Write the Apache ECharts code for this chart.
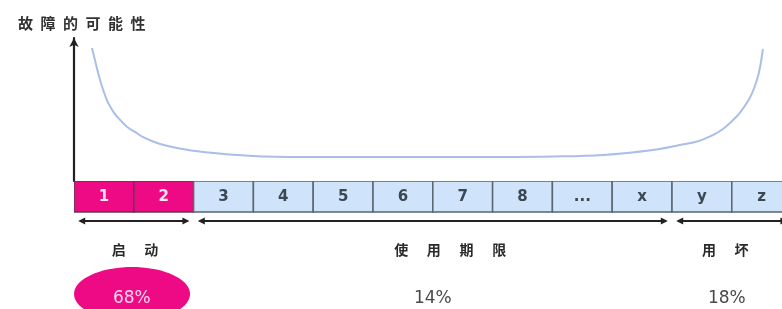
<!DOCTYPE html>
<html><head><meta charset="utf-8">
<script src="https://cdn.jsdelivr.net/npm/echarts@6/dist/echarts.min.js"></script>
<style>html,body{margin:0;padding:0;background:#fff}#c{width:782px;height:309px}</style>
</head><body><div id="c"></div>
<script>
// ---- data ----
const titleText = '故\u2002障\u2002的\u2002可\u2002能\u2002性';
const cellLabels = ['1','2','3','4','5','6','7','8','...','x','y','z'];
const phaseNames = ['启\u2003\u2004动','使\u2003\u2004用\u2003\u2004期\u2003\u2004限','用\u2003\u2004坏'];
const phaseStart = [0, 2, 10];
const phaseEnd = [2, 10, 12];
const phasePercent = [68, 14, 18];
const curveX = [0.30,0.35,0.40,0.45,0.50,0.55,0.60,0.67,0.74,0.82,0.89,1.02,1.15,1.30,1.44,1.72,2.16,2.99,3.83,5.95,7.17,8.01,8.85,9.68,10.13,10.42,10.69,10.84,10.97,11.12,11.25,11.34,11.42,11.47,11.52];
const curveY = [93.0,84.6,76.2,68.5,62.2,56.6,52.4,47.6,44.1,40.6,37.8,34.3,30.8,28.0,25.9,23.1,20.3,17.5,16.8,16.8,16.8,17.1,18.2,21.7,25.2,27.6,32.2,36.0,40.6,46.9,54.5,61.5,70.6,79.0,92.3];

// ---- layout (not data) ----
const X_MAX = 708 / 59.8;
const ROW = { cellTop: 0, cellBottom: 31, arrow: 40, label: 69, pct: 118 };
const labelAt = [1.02, 6.29, 10.89];
const GAP = 0.07;
const PINK = '#ee0a85';
const BLUE = '#cfe3fa';

const chart = echarts.init(document.getElementById('c'), null, { renderer: 'canvas' });

const cellSeries = {
  type: 'custom', xAxisIndex: 1, yAxisIndex: 1, clip: true,
  data: cellLabels.map((l, i) => [i, 0]),
  renderItem(params, api) {
    const i = api.value(0);
    const p0 = api.coord([i, ROW.cellTop]);
    const p1 = api.coord([i + 1, ROW.cellBottom]);
    const hot = i < phaseEnd[0];
    return {
      type: 'group',
      children: [
        { type: 'rect', shape: { x: p0[0], y: p0[1], width: p1[0] - p0[0], height: p1[1] - p0[1] },
          style: { fill: hot ? PINK : BLUE, stroke: hot ? '#5e3a4e' : '#5a6670', lineWidth: 1.5 } },
        { type: 'text', style: { text: cellLabels[params.dataIndex], x: (p0[0] + p1[0]) / 2, y: (p0[1] + p1[1]) / 2 + 1,
          align: 'center', verticalAlign: 'middle', fill: hot ? '#ffe4f2' : '#3b4852',
          font: 'bold 15px "DejaVu Sans", Verdana, sans-serif' } }
      ]
    };
  }
};

const phaseSeries = {
  type: 'custom', xAxisIndex: 1, yAxisIndex: 1, clip: false,
  data: phaseNames.map((n, i) => [phaseStart[i], phaseEnd[i], phasePercent[i]]),
  renderItem(params, api) {
    const k = params.dataIndex;
    const s = api.value(0), e = api.value(1), pct = api.value(2);
    const a = api.coord([s + GAP, ROW.arrow]);
    const b = api.coord([e - GAP, ROW.arrow]);
    const y = a[1];
    const L = 7, H = 3.5;
    const mid = (s + e) / 2;
    const lab = api.coord([labelAt[k], ROW.label]);
    const pc = api.coord([mid, ROW.pct]);
    const children = [
      { type: 'line', shape: { x1: a[0] + 2, y1: y, x2: b[0] - 2, y2: y }, style: { stroke: '#222', lineWidth: 2.2 } },
      { type: 'polygon', shape: { points: [[a[0], y], [a[0] + L, y - H], [a[0] + L, y + H]] }, style: { fill: '#222' } },
      { type: 'polygon', shape: { points: [[b[0], y], [b[0] - L, y - H], [b[0] - L, y + H]] }, style: { fill: '#222' } },
      { type: 'text', style: { text: phaseNames[k], x: lab[0], y: lab[1], align: 'center', verticalAlign: 'middle',
          fill: '#2a2a2a', font: 'bold 14px "Noto Sans CJK SC", sans-serif' } }
    ];
    if (k === 0) {
      const ec = api.coord([mid - 0.03, ROW.pct - 5]);
      const rx = 58, ry = 27, pts = [];
      for (let t = 0; t < 72; t++) {
        const ang = t / 72 * Math.PI * 2;
        pts.push([ec[0] + rx * Math.cos(ang), ec[1] + ry * Math.sin(ang)]);
      }
      children.push({ type: 'polygon', shape: { points: pts }, style: { fill: PINK } });
      children.push({ type: 'text', style: { text: pct + '%', x: pc[0] - 2, y: pc[1], align: 'center', verticalAlign: 'middle',
          fill: '#ffd8ec', font: '17px "DejaVu Sans", Verdana, sans-serif' } });
    } else {
      children.push({ type: 'text', style: { text: pct + '%', x: pc[0] + (k === 2 ? -5 : 0), y: pc[1], align: 'center', verticalAlign: 'middle',
          fill: '#4a4a4a', font: '17px "DejaVu Sans", Verdana, sans-serif' } });
    }
    return { type: 'group', children };
  }
};

chart.setOption({
  animation: false,
  backgroundColor: '#ffffff',
  title: {
    text: titleText, left: 13, top: 11,
    textStyle: { fontSize: 15, fontWeight: 'bold', color: '#333', fontFamily: '"Noto Sans CJK SC", sans-serif' }
  },
  grid: [
    { left: 74, right: 0, top: 38, bottom: 128 },
    { left: 74, right: 0, top: 181, bottom: 0 }
  ],
  xAxis: [
    { gridIndex: 0, type: 'value', min: 0, max: X_MAX, show: false },
    { gridIndex: 1, type: 'value', min: 0, max: X_MAX, show: false }
  ],
  yAxis: [
    { gridIndex: 0, type: 'value', min: 0, max: 100,
      axisLine: { show: true, symbol: ['none', 'arrow'], symbolSize: [7, 9], lineStyle: { color: '#222', width: 2.2 } },
      axisTick: { show: false }, axisLabel: { show: false }, splitLine: { show: false } },
    { gridIndex: 1, type: 'value', min: 0, max: 128, inverse: true, show: false }
  ],
  series: [
    { type: 'line', xAxisIndex: 0, yAxisIndex: 0, smooth: 0.35, showSymbol: false,
      lineStyle: { color: '#a9bfe8', width: 2 },
      data: curveX.map((x, i) => [x, curveY[i]]) },
    cellSeries,
    phaseSeries
  ]
});
</script>
</body></html>
